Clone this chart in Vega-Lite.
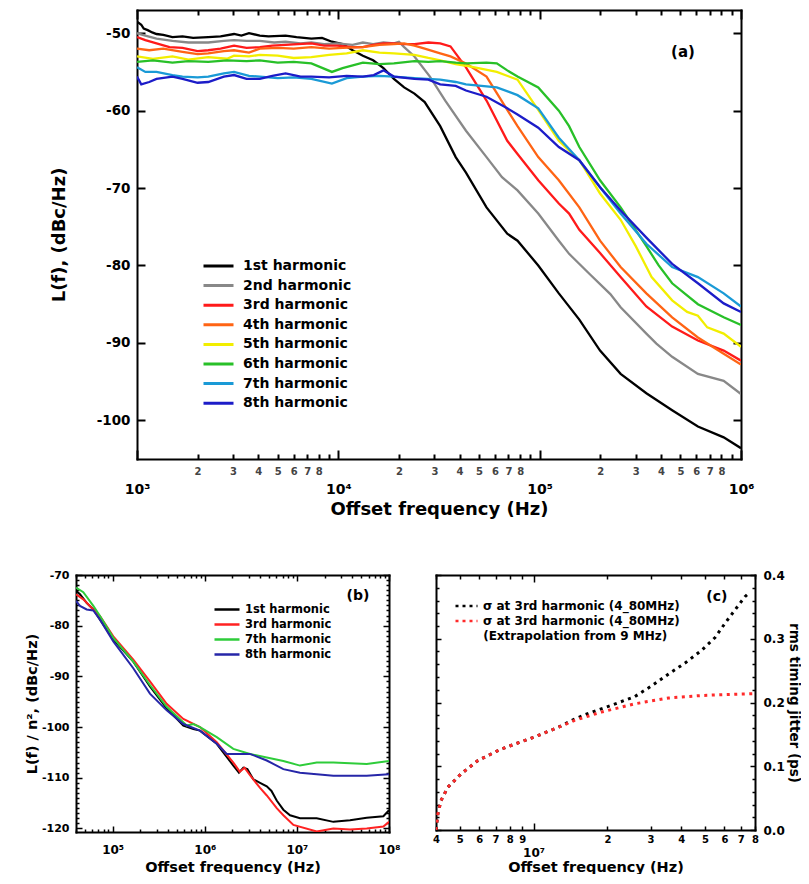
{
  "$schema": "https://vega.github.io/schema/vega-lite/v6.json",
  "padding": {"left": 24, "top": 9, "right": 0, "bottom": 0},
  "background": "white",
  "config": {
    "font": "DejaVu Sans",
    "view": {"stroke": null},
    "axis": {"labelFont": "DejaVu Sans", "labelFontWeight": "bold", "titleFont": "DejaVu Sans", "titleFontWeight": "bold", "labelColor": "#000", "titleColor": "#000", "domainColor": "#000", "tickColor": "#000", "grid": false, "labelFlush": false, "labelOverlap": false, "domainCap": "square"},
    "legend": {"labelFont": "DejaVu Sans", "labelFontWeight": "bold", "labelColor": "#000", "labelLimit": 400}
  },
  "resolve": {"scale": {"color": "independent"}, "legend": {"color": "independent"}},
  "datasets": {
    "a": [
      {"s":"1st harmonic","f":1000,"L":-48.5},{"s":"1st harmonic","f":1050,"L":-48.9},{"s":"1st harmonic","f":1080,"L":-49.4},{"s":"1st harmonic","f":1130,"L":-49.6},{"s":"1st harmonic","f":1190,"L":-49.9},{"s":"1st harmonic","f":1250,"L":-50.1},{"s":"1st harmonic","f":1350,"L":-50.2},{"s":"1st harmonic","f":1500,"L":-50.5},{"s":"1st harmonic","f":1683,"L":-50.4},{"s":"1st harmonic","f":1900,"L":-50.6},{"s":"1st harmonic","f":2259,"L":-50.5},{"s":"1st harmonic","f":2600,"L":-50.4},{"s":"1st harmonic","f":3034,"L":-50.1},{"s":"1st harmonic","f":3300,"L":-50.3},{"s":"1st harmonic","f":3600,"L":-50.0},{"s":"1st harmonic","f":4074,"L":-50.3},{"s":"1st harmonic","f":4500,"L":-50.4},{"s":"1st harmonic","f":5470,"L":-50.3},{"s":"1st harmonic","f":6200,"L":-50.5},{"s":"1st harmonic","f":7345,"L":-50.7},{"s":"1st harmonic","f":8300,"L":-50.6},{"s":"1st harmonic","f":9290,"L":-51.1},{"s":"1st harmonic","f":10500,"L":-51.4},{"s":"1st harmonic","f":11770,"L":-52.2},{"s":"1st harmonic","f":13240,"L":-52.9},{"s":"1st harmonic","f":14890,"L":-53.5},{"s":"1st harmonic","f":16750,"L":-54.5},{"s":"1st harmonic","f":17780,"L":-55.2},{"s":"1st harmonic","f":18880,"L":-55.9},{"s":"1st harmonic","f":21230,"L":-57.0},{"s":"1st harmonic","f":23880,"L":-57.8},{"s":"1st harmonic","f":26850,"L":-58.9},{"s":"1st harmonic","f":32060,"L":-62.0},{"s":"1st harmonic","f":38280,"L":-66.0},{"s":"1st harmonic","f":43050,"L":-68.0},{"s":"1st harmonic","f":54450,"L":-72.5},{"s":"1st harmonic","f":69020,"L":-75.9},{"s":"1st harmonic","f":77620,"L":-76.8},{"s":"1st harmonic","f":98400,"L":-80.0},{"s":"1st harmonic","f":124500,"L":-83.6},{"s":"1st harmonic","f":157400,"L":-87.0},{"s":"1st harmonic","f":199500,"L":-91.0},{"s":"1st harmonic","f":252400,"L":-94.0},{"s":"1st harmonic","f":338800,"L":-96.5},{"s":"1st harmonic","f":455000,"L":-98.7},{"s":"1st harmonic","f":610900,"L":-100.8},{"s":"1st harmonic","f":820300,"L":-102.2},{"s":"1st harmonic","f":1000000,"L":-103.6},
      {"s":"2nd harmonic","f":1000,"L":-50.0},{"s":"2nd harmonic","f":1100,"L":-50.3},{"s":"2nd harmonic","f":1250,"L":-50.7},{"s":"2nd harmonic","f":1500,"L":-51.0},{"s":"2nd harmonic","f":1800,"L":-51.2},{"s":"2nd harmonic","f":2259,"L":-51.2},{"s":"2nd harmonic","f":2700,"L":-51.0},{"s":"2nd harmonic","f":3034,"L":-50.9},{"s":"2nd harmonic","f":3500,"L":-51.0},{"s":"2nd harmonic","f":4074,"L":-51.0},{"s":"2nd harmonic","f":4800,"L":-51.2},{"s":"2nd harmonic","f":5470,"L":-51.1},{"s":"2nd harmonic","f":6500,"L":-51.3},{"s":"2nd harmonic","f":7345,"L":-51.2},{"s":"2nd harmonic","f":8500,"L":-51.4},{"s":"2nd harmonic","f":9863,"L":-51.3},{"s":"2nd harmonic","f":11770,"L":-51.5},{"s":"2nd harmonic","f":13240,"L":-51.2},{"s":"2nd harmonic","f":14890,"L":-51.4},{"s":"2nd harmonic","f":16750,"L":-51.2},{"s":"2nd harmonic","f":18880,"L":-51.3},{"s":"2nd harmonic","f":20000,"L":-51.1},{"s":"2nd harmonic","f":21230,"L":-51.8},{"s":"2nd harmonic","f":23880,"L":-53.0},{"s":"2nd harmonic","f":28500,"L":-55.6},{"s":"2nd harmonic","f":33960,"L":-58.7},{"s":"2nd harmonic","f":43050,"L":-62.6},{"s":"2nd harmonic","f":54450,"L":-66.0},{"s":"2nd harmonic","f":65000,"L":-68.6},{"s":"2nd harmonic","f":77620,"L":-70.3},{"s":"2nd harmonic","f":98400,"L":-73.3},{"s":"2nd harmonic","f":124500,"L":-76.8},{"s":"2nd harmonic","f":140000,"L":-78.5},{"s":"2nd harmonic","f":177000,"L":-81.1},{"s":"2nd harmonic","f":224400,"L":-83.7},{"s":"2nd harmonic","f":252400,"L":-85.4},{"s":"2nd harmonic","f":338800,"L":-88.8},{"s":"2nd harmonic","f":380000,"L":-90.1},{"s":"2nd harmonic","f":455000,"L":-91.8},{"s":"2nd harmonic","f":610900,"L":-94.0},{"s":"2nd harmonic","f":820300,"L":-94.9},{"s":"2nd harmonic","f":1000000,"L":-96.6},
      {"s":"3rd harmonic","f":1000,"L":-50.5},{"s":"3rd harmonic","f":1100,"L":-50.9},{"s":"3rd harmonic","f":1250,"L":-51.3},{"s":"3rd harmonic","f":1450,"L":-51.8},{"s":"3rd harmonic","f":1683,"L":-51.9},{"s":"3rd harmonic","f":2000,"L":-52.3},{"s":"3rd harmonic","f":2259,"L":-52.2},{"s":"3rd harmonic","f":2600,"L":-52.0},{"s":"3rd harmonic","f":3034,"L":-51.6},{"s":"3rd harmonic","f":3500,"L":-51.9},{"s":"3rd harmonic","f":4074,"L":-51.8},{"s":"3rd harmonic","f":4700,"L":-51.6},{"s":"3rd harmonic","f":5470,"L":-51.5},{"s":"3rd harmonic","f":6300,"L":-51.4},{"s":"3rd harmonic","f":7345,"L":-51.3},{"s":"3rd harmonic","f":8500,"L":-51.6},{"s":"3rd harmonic","f":9863,"L":-51.6},{"s":"3rd harmonic","f":11770,"L":-51.8},{"s":"3rd harmonic","f":13240,"L":-51.8},{"s":"3rd harmonic","f":14890,"L":-51.5},{"s":"3rd harmonic","f":16750,"L":-51.3},{"s":"3rd harmonic","f":18880,"L":-51.3},{"s":"3rd harmonic","f":21230,"L":-51.4},{"s":"3rd harmonic","f":23880,"L":-51.4},{"s":"3rd harmonic","f":28000,"L":-51.2},{"s":"3rd harmonic","f":32060,"L":-51.3},{"s":"3rd harmonic","f":36060,"L":-51.7},{"s":"3rd harmonic","f":43050,"L":-54.4},{"s":"3rd harmonic","f":54450,"L":-58.7},{"s":"3rd harmonic","f":69020,"L":-63.9},{"s":"3rd harmonic","f":77620,"L":-65.6},{"s":"3rd harmonic","f":98400,"L":-69.0},{"s":"3rd harmonic","f":124500,"L":-72.0},{"s":"3rd harmonic","f":140000,"L":-73.3},{"s":"3rd harmonic","f":157400,"L":-75.4},{"s":"3rd harmonic","f":199500,"L":-78.4},{"s":"3rd harmonic","f":252400,"L":-81.5},{"s":"3rd harmonic","f":338800,"L":-85.3},{"s":"3rd harmonic","f":455000,"L":-87.9},{"s":"3rd harmonic","f":610900,"L":-89.7},{"s":"3rd harmonic","f":820300,"L":-91.0},{"s":"3rd harmonic","f":1000000,"L":-92.3},
      {"s":"4th harmonic","f":1000,"L":-52.0},{"s":"4th harmonic","f":1150,"L":-52.2},{"s":"4th harmonic","f":1350,"L":-52.0},{"s":"4th harmonic","f":1683,"L":-52.4},{"s":"4th harmonic","f":2000,"L":-52.7},{"s":"4th harmonic","f":2259,"L":-52.6},{"s":"4th harmonic","f":2700,"L":-52.3},{"s":"4th harmonic","f":3034,"L":-52.2},{"s":"4th harmonic","f":3600,"L":-52.5},{"s":"4th harmonic","f":4074,"L":-52.0},{"s":"4th harmonic","f":5000,"L":-51.9},{"s":"4th harmonic","f":6000,"L":-52.0},{"s":"4th harmonic","f":7345,"L":-51.8},{"s":"4th harmonic","f":9000,"L":-52.0},{"s":"4th harmonic","f":10500,"L":-51.9},{"s":"4th harmonic","f":13240,"L":-51.8},{"s":"4th harmonic","f":16000,"L":-51.5},{"s":"4th harmonic","f":18880,"L":-51.4},{"s":"4th harmonic","f":21230,"L":-51.3},{"s":"4th harmonic","f":23880,"L":-51.6},{"s":"4th harmonic","f":26850,"L":-52.0},{"s":"4th harmonic","f":32060,"L":-52.6},{"s":"4th harmonic","f":36060,"L":-53.0},{"s":"4th harmonic","f":43050,"L":-53.9},{"s":"4th harmonic","f":54450,"L":-55.6},{"s":"4th harmonic","f":69020,"L":-59.9},{"s":"4th harmonic","f":77620,"L":-62.0},{"s":"4th harmonic","f":98400,"L":-66.0},{"s":"4th harmonic","f":124500,"L":-69.0},{"s":"4th harmonic","f":157400,"L":-72.5},{"s":"4th harmonic","f":199500,"L":-76.8},{"s":"4th harmonic","f":252400,"L":-80.2},{"s":"4th harmonic","f":338800,"L":-83.6},{"s":"4th harmonic","f":455000,"L":-86.7},{"s":"4th harmonic","f":610900,"L":-89.3},{"s":"4th harmonic","f":820300,"L":-91.4},{"s":"4th harmonic","f":1000000,"L":-92.8},
      {"s":"5th harmonic","f":1000,"L":-53.0},{"s":"5th harmonic","f":1200,"L":-53.3},{"s":"5th harmonic","f":1500,"L":-53.0},{"s":"5th harmonic","f":1800,"L":-53.4},{"s":"5th harmonic","f":2259,"L":-53.1},{"s":"5th harmonic","f":2800,"L":-53.3},{"s":"5th harmonic","f":3034,"L":-52.9},{"s":"5th harmonic","f":3600,"L":-53.0},{"s":"5th harmonic","f":4074,"L":-52.8},{"s":"5th harmonic","f":5000,"L":-52.9},{"s":"5th harmonic","f":6000,"L":-53.2},{"s":"5th harmonic","f":7345,"L":-53.1},{"s":"5th harmonic","f":9000,"L":-52.8},{"s":"5th harmonic","f":11000,"L":-52.6},{"s":"5th harmonic","f":13240,"L":-52.2},{"s":"5th harmonic","f":16000,"L":-52.5},{"s":"5th harmonic","f":18880,"L":-52.6},{"s":"5th harmonic","f":23880,"L":-52.8},{"s":"5th harmonic","f":28000,"L":-53.2},{"s":"5th harmonic","f":32060,"L":-53.5},{"s":"5th harmonic","f":38280,"L":-54.0},{"s":"5th harmonic","f":43050,"L":-54.2},{"s":"5th harmonic","f":61240,"L":-55.0},{"s":"5th harmonic","f":77620,"L":-56.0},{"s":"5th harmonic","f":98400,"L":-59.9},{"s":"5th harmonic","f":124500,"L":-63.9},{"s":"5th harmonic","f":157400,"L":-66.4},{"s":"5th harmonic","f":199500,"L":-70.7},{"s":"5th harmonic","f":252400,"L":-74.1},{"s":"5th harmonic","f":300000,"L":-77.5},{"s":"5th harmonic","f":359700,"L":-81.5},{"s":"5th harmonic","f":455000,"L":-84.5},{"s":"5th harmonic","f":540000,"L":-86.0},{"s":"5th harmonic","f":610900,"L":-86.5},{"s":"5th harmonic","f":680000,"L":-88.0},{"s":"5th harmonic","f":820300,"L":-88.8},{"s":"5th harmonic","f":1000000,"L":-90.5},
      {"s":"6th harmonic","f":1000,"L":-53.7},{"s":"6th harmonic","f":1200,"L":-53.5},{"s":"6th harmonic","f":1500,"L":-53.8},{"s":"6th harmonic","f":1800,"L":-53.6},{"s":"6th harmonic","f":2259,"L":-53.7},{"s":"6th harmonic","f":2800,"L":-53.5},{"s":"6th harmonic","f":3500,"L":-53.6},{"s":"6th harmonic","f":4074,"L":-53.5},{"s":"6th harmonic","f":5000,"L":-53.8},{"s":"6th harmonic","f":6000,"L":-53.7},{"s":"6th harmonic","f":7345,"L":-53.9},{"s":"6th harmonic","f":9290,"L":-55.0},{"s":"6th harmonic","f":10500,"L":-54.5},{"s":"6th harmonic","f":13240,"L":-53.8},{"s":"6th harmonic","f":16000,"L":-54.0},{"s":"6th harmonic","f":18880,"L":-53.9},{"s":"6th harmonic","f":23880,"L":-53.6},{"s":"6th harmonic","f":28000,"L":-53.7},{"s":"6th harmonic","f":32060,"L":-53.6},{"s":"6th harmonic","f":38280,"L":-53.8},{"s":"6th harmonic","f":43050,"L":-53.9},{"s":"6th harmonic","f":54450,"L":-53.8},{"s":"6th harmonic","f":61240,"L":-53.9},{"s":"6th harmonic","f":69020,"L":-54.8},{"s":"6th harmonic","f":77620,"L":-55.6},{"s":"6th harmonic","f":98400,"L":-57.0},{"s":"6th harmonic","f":124500,"L":-60.0},{"s":"6th harmonic","f":140000,"L":-62.0},{"s":"6th harmonic","f":157400,"L":-64.7},{"s":"6th harmonic","f":199500,"L":-69.0},{"s":"6th harmonic","f":252400,"L":-72.5},{"s":"6th harmonic","f":338800,"L":-77.5},{"s":"6th harmonic","f":390000,"L":-80.0},{"s":"6th harmonic","f":455000,"L":-82.3},{"s":"6th harmonic","f":610900,"L":-85.0},{"s":"6th harmonic","f":820300,"L":-86.7},{"s":"6th harmonic","f":1000000,"L":-87.7},
      {"s":"7th harmonic","f":1000,"L":-54.4},{"s":"7th harmonic","f":1100,"L":-55.0},{"s":"7th harmonic","f":1250,"L":-55.0},{"s":"7th harmonic","f":1500,"L":-55.4},{"s":"7th harmonic","f":1683,"L":-55.6},{"s":"7th harmonic","f":2000,"L":-55.7},{"s":"7th harmonic","f":2259,"L":-55.6},{"s":"7th harmonic","f":2700,"L":-55.2},{"s":"7th harmonic","f":3034,"L":-55.0},{"s":"7th harmonic","f":3600,"L":-55.5},{"s":"7th harmonic","f":4074,"L":-55.6},{"s":"7th harmonic","f":5000,"L":-55.8},{"s":"7th harmonic","f":6000,"L":-55.7},{"s":"7th harmonic","f":7345,"L":-55.9},{"s":"7th harmonic","f":9290,"L":-56.5},{"s":"7th harmonic","f":11000,"L":-55.8},{"s":"7th harmonic","f":13240,"L":-55.6},{"s":"7th harmonic","f":16000,"L":-55.5},{"s":"7th harmonic","f":18880,"L":-55.6},{"s":"7th harmonic","f":23880,"L":-55.8},{"s":"7th harmonic","f":32060,"L":-56.0},{"s":"7th harmonic","f":38280,"L":-56.3},{"s":"7th harmonic","f":43050,"L":-56.6},{"s":"7th harmonic","f":61240,"L":-57.0},{"s":"7th harmonic","f":77620,"L":-58.0},{"s":"7th harmonic","f":98400,"L":-59.7},{"s":"7th harmonic","f":124500,"L":-63.5},{"s":"7th harmonic","f":157400,"L":-66.4},{"s":"7th harmonic","f":199500,"L":-69.9},{"s":"7th harmonic","f":252400,"L":-73.3},{"s":"7th harmonic","f":338800,"L":-77.2},{"s":"7th harmonic","f":455000,"L":-80.2},{"s":"7th harmonic","f":610900,"L":-81.5},{"s":"7th harmonic","f":820300,"L":-83.6},{"s":"7th harmonic","f":1000000,"L":-85.3},
      {"s":"8th harmonic","f":1000,"L":-55.6},{"s":"8th harmonic","f":1050,"L":-56.6},{"s":"8th harmonic","f":1150,"L":-56.3},{"s":"8th harmonic","f":1250,"L":-55.9},{"s":"8th harmonic","f":1500,"L":-55.6},{"s":"8th harmonic","f":1683,"L":-55.9},{"s":"8th harmonic","f":2000,"L":-56.4},{"s":"8th harmonic","f":2259,"L":-56.3},{"s":"8th harmonic","f":2700,"L":-55.6},{"s":"8th harmonic","f":3034,"L":-55.4},{"s":"8th harmonic","f":3500,"L":-55.9},{"s":"8th harmonic","f":4074,"L":-55.9},{"s":"8th harmonic","f":4700,"L":-55.5},{"s":"8th harmonic","f":5470,"L":-55.2},{"s":"8th harmonic","f":6500,"L":-55.6},{"s":"8th harmonic","f":7345,"L":-55.6},{"s":"8th harmonic","f":9000,"L":-55.7},{"s":"8th harmonic","f":11000,"L":-55.5},{"s":"8th harmonic","f":13240,"L":-55.6},{"s":"8th harmonic","f":15000,"L":-55.4},{"s":"8th harmonic","f":16750,"L":-54.8},{"s":"8th harmonic","f":18880,"L":-55.6},{"s":"8th harmonic","f":23880,"L":-55.9},{"s":"8th harmonic","f":28000,"L":-56.0},{"s":"8th harmonic","f":32060,"L":-56.6},{"s":"8th harmonic","f":38280,"L":-56.8},{"s":"8th harmonic","f":43050,"L":-57.4},{"s":"8th harmonic","f":54450,"L":-58.2},{"s":"8th harmonic","f":69020,"L":-59.7},{"s":"8th harmonic","f":77620,"L":-60.5},{"s":"8th harmonic","f":98400,"L":-62.2},{"s":"8th harmonic","f":124500,"L":-64.7},{"s":"8th harmonic","f":157400,"L":-66.4},{"s":"8th harmonic","f":199500,"L":-69.9},{"s":"8th harmonic","f":252400,"L":-72.9},{"s":"8th harmonic","f":338800,"L":-76.4},{"s":"8th harmonic","f":455000,"L":-79.8},{"s":"8th harmonic","f":610900,"L":-82.3},{"s":"8th harmonic","f":820300,"L":-84.9},{"s":"8th harmonic","f":1000000,"L":-86.0}
    ],
    "b": [
      {"s":"1st harmonic","f":40000,"L":-73.1},{"s":"1st harmonic","f":44200,"L":-73.8},{"s":"1st harmonic","f":52200,"L":-75.5},{"s":"1st harmonic","f":61700,"L":-76.8},{"s":"1st harmonic","f":72900,"L":-78.8},{"s":"1st harmonic","f":101600,"L":-82.7},{"s":"1st harmonic","f":167500,"L":-87.1},{"s":"1st harmonic","f":254000,"L":-92.0},{"s":"1st harmonic","f":386000,"L":-96.3},{"s":"1st harmonic","f":585000,"L":-99.7},{"s":"1st harmonic","f":752000,"L":-100.4},{"s":"1st harmonic","f":887000,"L":-100.7},{"s":"1st harmonic","f":1349000,"L":-103.3},{"s":"1st harmonic","f":2042000,"L":-107.6},{"s":"1st harmonic","f":2350000,"L":-109.0},{"s":"1st harmonic","f":2624000,"L":-108.0},{"s":"1st harmonic","f":2900000,"L":-108.3},{"s":"1st harmonic","f":3365000,"L":-110.3},{"s":"1st harmonic","f":3981000,"L":-111.0},{"s":"1st harmonic","f":4710000,"L":-111.7},{"s":"1st harmonic","f":5300000,"L":-112.6},{"s":"1st harmonic","f":6039000,"L":-114.5},{"s":"1st harmonic","f":7129000,"L":-116.3},{"s":"1st harmonic","f":8433000,"L":-117.4},{"s":"1st harmonic","f":10810000,"L":-118.0},{"s":"1st harmonic","f":16410000,"L":-118.0},{"s":"1st harmonic","f":24890000,"L":-118.7},{"s":"1st harmonic","f":37760000,"L":-118.4},{"s":"1st harmonic","f":57280000,"L":-117.9},{"s":"1st harmonic","f":86900000,"L":-117.6},{"s":"1st harmonic","f":100000000,"L":-116.4},
      {"s":"3rd harmonic","f":40000,"L":-73.8},{"s":"3rd harmonic","f":48000,"L":-74.8},{"s":"3rd harmonic","f":61700,"L":-76.8},{"s":"3rd harmonic","f":72900,"L":-78.1},{"s":"3rd harmonic","f":101600,"L":-82.1},{"s":"3rd harmonic","f":167500,"L":-86.7},{"s":"3rd harmonic","f":254000,"L":-91.0},{"s":"3rd harmonic","f":386000,"L":-95.4},{"s":"3rd harmonic","f":585000,"L":-98.4},{"s":"3rd harmonic","f":887000,"L":-100.0},{"s":"3rd harmonic","f":1349000,"L":-103.0},{"s":"3rd harmonic","f":2042000,"L":-107.0},{"s":"3rd harmonic","f":2400000,"L":-108.8},{"s":"3rd harmonic","f":2700000,"L":-108.0},{"s":"3rd harmonic","f":3097000,"L":-109.5},{"s":"3rd harmonic","f":3981000,"L":-112.0},{"s":"3rd harmonic","f":4710000,"L":-113.5},{"s":"3rd harmonic","f":6039000,"L":-116.0},{"s":"3rd harmonic","f":7129000,"L":-117.4},{"s":"3rd harmonic","f":9162000,"L":-119.3},{"s":"3rd harmonic","f":16410000,"L":-120.6},{"s":"3rd harmonic","f":24890000,"L":-120.0},{"s":"3rd harmonic","f":37760000,"L":-120.2},{"s":"3rd harmonic","f":57280000,"L":-120.0},{"s":"3rd harmonic","f":86900000,"L":-119.6},{"s":"3rd harmonic","f":100000000,"L":-118.7},
      {"s":"7th harmonic","f":40000,"L":-72.5},{"s":"7th harmonic","f":48000,"L":-73.4},{"s":"7th harmonic","f":61700,"L":-76.1},{"s":"7th harmonic","f":72900,"L":-78.1},{"s":"7th harmonic","f":101600,"L":-82.4},{"s":"7th harmonic","f":167500,"L":-87.1},{"s":"7th harmonic","f":254000,"L":-91.7},{"s":"7th harmonic","f":386000,"L":-96.0},{"s":"7th harmonic","f":637000,"L":-99.7},{"s":"7th harmonic","f":752000,"L":-99.4},{"s":"7th harmonic","f":887000,"L":-100.0},{"s":"7th harmonic","f":1349000,"L":-102.0},{"s":"7th harmonic","f":2042000,"L":-104.3},{"s":"7th harmonic","f":3097000,"L":-105.3},{"s":"7th harmonic","f":4710000,"L":-106.0},{"s":"7th harmonic","f":7129000,"L":-106.7},{"s":"7th harmonic","f":10810000,"L":-107.6},{"s":"7th harmonic","f":16410000,"L":-107.0},{"s":"7th harmonic","f":24890000,"L":-107.0},{"s":"7th harmonic","f":57280000,"L":-107.3},{"s":"7th harmonic","f":100000000,"L":-106.7},
      {"s":"8th harmonic","f":40000,"L":-75.1},{"s":"8th harmonic","f":44200,"L":-76.1},{"s":"8th harmonic","f":52200,"L":-76.8},{"s":"8th harmonic","f":61700,"L":-77.0},{"s":"8th harmonic","f":72900,"L":-78.8},{"s":"8th harmonic","f":101600,"L":-83.1},{"s":"8th harmonic","f":167500,"L":-88.4},{"s":"8th harmonic","f":254000,"L":-93.4},{"s":"8th harmonic","f":386000,"L":-96.7},{"s":"8th harmonic","f":585000,"L":-99.4},{"s":"8th harmonic","f":887000,"L":-100.7},{"s":"8th harmonic","f":1349000,"L":-103.3},{"s":"8th harmonic","f":1730000,"L":-105.3},{"s":"8th harmonic","f":3097000,"L":-105.3},{"s":"8th harmonic","f":4710000,"L":-106.6},{"s":"8th harmonic","f":7129000,"L":-108.3},{"s":"8th harmonic","f":10810000,"L":-109.0},{"s":"8th harmonic","f":24890000,"L":-109.6},{"s":"8th harmonic","f":57280000,"L":-109.6},{"s":"8th harmonic","f":100000000,"L":-109.3}
    ],
    "c": [
      {"s":"measured","f":4000000,"j":0},{"s":"measured","f":4070000,"j":0.025},{"s":"measured","f":4190000,"j":0.046},{"s":"measured","f":4470000,"j":0.067},{"s":"measured","f":5060000,"j":0.088},{"s":"measured","f":5930000,"j":0.109},{"s":"measured","f":7380000,"j":0.127},{"s":"measured","f":10100000,"j":0.146},{"s":"measured","f":12600000,"j":0.161},{"s":"measured","f":14700000,"j":0.174},{"s":"measured","f":17000000,"j":0.184},{"s":"measured","f":20200000,"j":0.194},{"s":"measured","f":25800000,"j":0.209},{"s":"measured","f":30300000,"j":0.226},{"s":"measured","f":35600000,"j":0.245},{"s":"measured","f":41500000,"j":0.262},{"s":"measured","f":48500000,"j":0.282},{"s":"measured","f":55000000,"j":0.302},{"s":"measured","f":60300000,"j":0.324},{"s":"measured","f":72800000,"j":0.366},{"s":"measured","f":76300000,"j":0.373},
      {"s":"extrapolated","f":4000000,"j":0},{"s":"extrapolated","f":4070000,"j":0.025},{"s":"extrapolated","f":4190000,"j":0.046},{"s":"extrapolated","f":4470000,"j":0.067},{"s":"extrapolated","f":5060000,"j":0.088},{"s":"extrapolated","f":5930000,"j":0.109},{"s":"extrapolated","f":7380000,"j":0.127},{"s":"extrapolated","f":10100000,"j":0.146},{"s":"extrapolated","f":12600000,"j":0.161},{"s":"extrapolated","f":14700000,"j":0.172},{"s":"extrapolated","f":18900000,"j":0.185},{"s":"extrapolated","f":25900000,"j":0.198},{"s":"extrapolated","f":35500000,"j":0.207},{"s":"extrapolated","f":48500000,"j":0.211},{"s":"extrapolated","f":66500000,"j":0.213},{"s":"extrapolated","f":80000000,"j":0.214}
    ]
  },
  "spacing": 51,
  "vconcat": [
    {
      "spacing": -30,
      "resolve": {"scale": {"color": "independent"}, "legend": {"color": "independent"}},
      "hconcat": [
        {"width": 1, "height": 10, "data": {"values": [{}]}, "mark": {"type": "point", "opacity": 0}},
        {
          "width": 604, "height": 449,
          "resolve": {"axis": {"x": "independent", "y": "independent"}},
          "layer": [
            {
              "data": {"name": "a"},
              "mark": {"type": "line", "strokeWidth": 2.3, "clip": true},
              "encoding": {
                "x": {"field": "f", "type": "quantitative", "scale": {"type": "log", "domain": [1000, 1000000], "nice": false},
                  "axis": {"orient": "bottom", "values": [1000,2000,3000,4000,5000,6000,7000,8000,9000,10000,20000,30000,40000,50000,60000,70000,80000,90000,100000,200000,300000,400000,500000,600000,700000,800000,900000,1000000],
                    "labelExpr": "datum.value==1000?'10³':datum.value==10000?'10⁴':datum.value==100000?'10⁵':datum.value==1000000?'10⁶':(substring(toString(datum.value),0,1)=='9'?'':substring(toString(datum.value),0,1))",
                    "tickSize": {"condition": {"test": "indexof([1000,10000,100000,1000000],datum.value)>=0", "value": -9}, "value": -5},
                    "labelPadding": {"condition": {"test": "indexof([1000,10000,100000,1000000],datum.value)>=0", "value": 32}, "value": 12},
                    "labelFontSize": {"condition": {"test": "indexof([1000,10000,100000,1000000],datum.value)>=0", "value": 14}, "value": 10},
                    "labelColor": {"condition": {"test": "indexof([1000,10000,100000,1000000],datum.value)>=0", "value": "#000"}, "value": "#444"},
                    "tickWidth": 2, "domainWidth": 2, "title": "Offset frequency (Hz)", "titleFontSize": 18, "titlePadding": 4}},
                "y": {"field": "L", "type": "quantitative", "scale": {"domain": [-105, -47], "nice": false, "zero": false},
                  "axis": {"orient": "left", "values": [-100,-90,-80,-70,-60,-50], "labelExpr": "toString(datum.value)", "tickSize": -8, "tickWidth": 2, "labelPadding": 15, "labelFontSize": 13.5, "domainWidth": 2, "title": "L(f), (dBc/Hz)", "titleFontSize": 18, "titlePadding": 28}},
                "color": {"field": "s", "type": "nominal",
                  "scale": {"domain": ["1st harmonic","2nd harmonic","3rd harmonic","4th harmonic","5th harmonic","6th harmonic","7th harmonic","8th harmonic"],
                    "range": ["#000000","#888888","#ff1a1a","#ff6414","#f2ee00","#28c028","#1a9ad6","#1c1cc8"]},
                  "legend": {"orient": "none", "legendX": 65, "legendY": 249, "title": null, "padding": 0, "symbolType": "stroke", "symbolSize": 900, "symbolStrokeWidth": 3, "clipHeight": 14, "rowPadding": 5.6, "labelFontSize": 14, "labelOffset": 8}}
              }
            },
            {
              "data": {"values": [{"f": 10000, "L": -60}]},
              "mark": {"type": "point", "opacity": 0},
              "encoding": {
                "x": {"field": "f", "type": "quantitative", "scale": {"type": "log", "domain": [1000, 1000000], "nice": false},
                  "axis": {"orient": "top", "labels": false, "title": null, "values": [1000,2000,3000,4000,5000,6000,7000,8000,9000,10000,20000,30000,40000,50000,60000,70000,80000,90000,100000,200000,300000,400000,500000,600000,700000,800000,900000,1000000],
                    "tickSize": {"condition": {"test": "indexof([1000,10000,100000,1000000],datum.value)>=0", "value": -9}, "value": -5}, "tickWidth": 2, "domainWidth": 2}},
                "y": {"field": "L", "type": "quantitative", "scale": {"domain": [-105, -47], "nice": false, "zero": false},
                  "axis": {"orient": "right", "labels": false, "title": null, "values": [-100,-90,-80,-70,-60,-50], "tickSize": -8, "tickWidth": 2, "domainWidth": 2}}
              }
            },
            {
              "data": {"values": [{"f": 515000, "L": -52.45, "t": "(a)"}]},
              "mark": {"type": "text", "fontSize": 15, "fontWeight": "bold", "font": "DejaVu Sans"},
              "encoding": {
                "x": {"field": "f", "type": "quantitative", "scale": {"type": "log", "domain": [1000, 1000000], "nice": false}, "axis": null},
                "y": {"field": "L", "type": "quantitative", "scale": {"domain": [-105, -47], "nice": false, "zero": false}, "axis": null},
                "text": {"field": "t"}
              }
            }
          ]
        }
      ]
    },
    {
      "spacing": 32,
      "resolve": {"scale": {"color": "independent"}, "legend": {"color": "independent"}},
      "hconcat": [
        {
          "width": 313, "height": 257,
          "resolve": {"axis": {"x": "independent", "y": "independent"}},
          "layer": [
            {
              "data": {"name": "b"},
              "mark": {"type": "line", "strokeWidth": 2, "clip": true},
              "encoding": {
                "x": {"field": "f", "type": "quantitative", "scale": {"type": "log", "domain": [40000, 100000000], "nice": false},
                  "axis": {"orient": "bottom", "values": [40000,50000,60000,70000,80000,90000,100000,200000,300000,400000,500000,600000,700000,800000,900000,1000000,2000000,3000000,4000000,5000000,6000000,7000000,8000000,9000000,10000000,20000000,30000000,40000000,50000000,60000000,70000000,80000000,90000000,100000000],
                    "labelExpr": "datum.value==100000?'10⁵':datum.value==1000000?'10⁶':datum.value==10000000?'10⁷':datum.value==100000000?'10⁸':''",
                    "tickSize": {"condition": {"test": "indexof([100000,1000000,10000000,100000000],datum.value)>=0", "value": -6}, "value": -3},
                    "labelPadding": {"condition": {"test": "indexof([100000,1000000,10000000,100000000],datum.value)>=0", "value": 18}, "value": 15},
                    "labelFontSize": 12, "tickWidth": 1.5, "domainWidth": 2, "title": "Offset frequency (Hz)", "titleFontSize": 14.5, "titlePadding": 5}},
                "y": {"field": "L", "type": "quantitative", "scale": {"domain": [-120.7, -70], "nice": false, "zero": false},
                  "axis": {"orient": "left", "values": [-120,-119,-118,-117,-116,-115,-114,-113,-112,-111,-110,-109,-108,-107,-106,-105,-104,-103,-102,-101,-100,-99,-98,-97,-96,-95,-94,-93,-92,-91,-90,-89,-88,-87,-86,-85,-84,-83,-82,-81,-80,-79,-78,-77,-76,-75,-74,-73,-72,-71,-70],
                    "labelExpr": "datum.value%10==0?toString(datum.value):''",
                    "tickSize": {"condition": {"test": "datum.value%10==0", "value": -6}, "value": -3},
                    "labelPadding": {"condition": {"test": "datum.value%10==0", "value": 13}, "value": 10},
                    "labelFontSize": 11, "tickWidth": 1.5, "domainWidth": 2, "title": "L(f) / n², (dBc/Hz)", "titleFontSize": 14.5, "titlePadding": 2}},
                "color": {"field": "s", "type": "nominal",
                  "scale": {"domain": ["1st harmonic","3rd harmonic","7th harmonic","8th harmonic"], "range": ["#000000","#ff2222","#2ecc3a","#2626a8"]},
                  "legend": {"orient": "none", "legendX": 137, "legendY": 28.5, "title": null, "padding": 0, "symbolType": "stroke", "symbolSize": 625, "symbolStrokeWidth": 2.5, "clipHeight": 12, "rowPadding": 3, "labelFontSize": 11.5, "labelOffset": 4}}
              }
            },
            {
              "data": {"values": [{"f": 1000000, "L": -100}]},
              "mark": {"type": "point", "opacity": 0},
              "encoding": {
                "x": {"field": "f", "type": "quantitative", "scale": {"type": "log", "domain": [40000, 100000000], "nice": false},
                  "axis": {"orient": "top", "labels": false, "title": null, "values": [40000,50000,60000,70000,80000,90000,100000,200000,300000,400000,500000,600000,700000,800000,900000,1000000,2000000,3000000,4000000,5000000,6000000,7000000,8000000,9000000,10000000,20000000,30000000,40000000,50000000,60000000,70000000,80000000,90000000,100000000],
                    "tickSize": {"condition": {"test": "indexof([100000,1000000,10000000,100000000],datum.value)>=0", "value": -6}, "value": -3}, "tickWidth": 1.5, "domainWidth": 2}},
                "y": {"field": "L", "type": "quantitative", "scale": {"domain": [-120.7, -70], "nice": false, "zero": false},
                  "axis": {"orient": "right", "labels": false, "title": null, "values": [-120,-119,-118,-117,-116,-115,-114,-113,-112,-111,-110,-109,-108,-107,-106,-105,-104,-103,-102,-101,-100,-99,-98,-97,-96,-95,-94,-93,-92,-91,-90,-89,-88,-87,-86,-85,-84,-83,-82,-81,-80,-79,-78,-77,-76,-75,-74,-73,-72,-71,-70],
                    "tickSize": {"condition": {"test": "datum.value%10==0", "value": -6}, "value": -3}, "tickWidth": 1.5, "domainWidth": 2}}
              }
            },
            {
              "data": {"values": [{"f": 46100000, "L": -74.2, "t": "(b)"}]},
              "mark": {"type": "text", "fontSize": 14, "fontWeight": "bold", "font": "DejaVu Sans"},
              "encoding": {
                "x": {"field": "f", "type": "quantitative", "scale": {"type": "log", "domain": [40000, 100000000], "nice": false}, "axis": null},
                "y": {"field": "L", "type": "quantitative", "scale": {"domain": [-120.7, -70], "nice": false, "zero": false}, "axis": null},
                "text": {"field": "t"}
              }
            }
          ]
        },
        {
          "width": 319, "height": 255,
          "resolve": {"axis": {"x": "independent", "y": "independent"}},
          "layer": [
            {
              "data": {"name": "c"},
              "mark": {"type": "line", "strokeWidth": 3, "strokeDash": [3, 4.5], "clip": true},
              "encoding": {
                "x": {"field": "f", "type": "quantitative", "scale": {"type": "log", "domain": [4000000, 80000000], "nice": false},
                  "axis": {"orient": "bottom", "values": [4000000,5000000,6000000,7000000,8000000,9000000,10000000,20000000,30000000,40000000,50000000,60000000,70000000,80000000],
                    "labelExpr": "datum.value==10000000?'10⁷':substring(toString(datum.value),0,1)",
                    "tickSize": {"condition": {"test": "datum.value==10000000", "value": -7}, "value": -4},
                    "labelPadding": {"condition": {"test": "datum.value==10000000", "value": 24}, "value": 8.5},
                    "labelFontSize": {"condition": {"test": "datum.value==10000000", "value": 12}, "value": 10},
                    "tickWidth": 1.5, "domainWidth": 2, "title": "Offset frequency (Hz)", "titleFontSize": 14.5, "titlePadding": 2}},
                "y": {"field": "j", "type": "quantitative", "scale": {"domain": [0, 0.4], "nice": false},
                  "axis": {"orient": "right", "values": [0,0.02,0.04,0.06,0.08,0.1,0.12,0.14,0.16,0.18,0.2,0.22,0.24,0.26,0.28,0.3,0.32,0.34,0.36,0.38,0.4],
                    "labelExpr": "abs(datum.value*10-round(datum.value*10))<1e-6?format(datum.value,'.1f'):''",
                    "tickSize": {"condition": {"test": "abs(datum.value*10-round(datum.value*10))<1e-6", "value": -5}, "value": -3},
                    "labelPadding": {"condition": {"test": "abs(datum.value*10-round(datum.value*10))<1e-6", "value": 13}, "value": 11},
                    "labelFontSize": 12, "tickWidth": 1.5, "domainWidth": 2, "title": "rms timing jitter (ps)", "titleFontSize": 13.5, "titlePadding": 2}},
                "color": {"field": "s", "type": "nominal",
                  "scale": {"domain": ["measured", "extrapolated"], "range": ["#000000", "#ff2a2a"]},
                  "legend": {"orient": "none", "legendX": 18, "legendY": 25, "title": null, "padding": 0, "symbolType": "stroke", "symbolSize": 484, "symbolStrokeWidth": 2.5, "symbolDash": [3, 4], "clipHeight": 12, "rowPadding": 3, "labelFontSize": 12, "labelOffset": 4, "labelLimit": 400,
                    "labelExpr": "'σ at 3rd harmonic (4_80MHz)'"}}
              }
            },
            {
              "data": {"values": [{"f": 10000000, "j": 0.1}]},
              "mark": {"type": "point", "opacity": 0},
              "encoding": {
                "x": {"field": "f", "type": "quantitative", "scale": {"type": "log", "domain": [4000000, 80000000], "nice": false},
                  "axis": {"orient": "top", "labels": false, "title": null, "values": [4000000,5000000,6000000,7000000,8000000,9000000,10000000,20000000,30000000,40000000,50000000,60000000,70000000,80000000],
                    "tickSize": {"condition": {"test": "datum.value==10000000", "value": -7}, "value": -4}, "tickWidth": 1.5, "domainWidth": 2}},
                "y": {"field": "j", "type": "quantitative", "scale": {"domain": [0, 0.4], "nice": false},
                  "axis": {"orient": "left", "labels": false, "title": null, "values": [0,0.02,0.04,0.06,0.08,0.1,0.12,0.14,0.16,0.18,0.2,0.22,0.24,0.26,0.28,0.3,0.32,0.34,0.36,0.38,0.4],
                    "tickSize": {"condition": {"test": "abs(datum.value*10-round(datum.value*10))<1e-6", "value": -5}, "value": -3}, "tickWidth": 1.5, "domainWidth": 2}}
              }
            },
            {
              "data": {"values": [{"f": 55900000, "j": 0.365, "t": "(c)"}]},
              "mark": {"type": "text", "fontSize": 14, "fontWeight": "bold", "font": "DejaVu Sans"},
              "encoding": {
                "x": {"field": "f", "type": "quantitative", "scale": {"type": "log", "domain": [4000000, 80000000], "nice": false}, "axis": null},
                "y": {"field": "j", "type": "quantitative", "scale": {"domain": [0, 0.4], "nice": false}, "axis": null},
                "text": {"field": "t"}
              }
            },
            {
              "data": {"values": [{"f": 6230000, "j": 0.304, "t": "(Extrapolation from 9 MHz)"}]},
              "mark": {"type": "text", "fontSize": 12, "fontWeight": "bold", "font": "DejaVu Sans", "align": "left", "baseline": "middle"},
              "encoding": {
                "x": {"field": "f", "type": "quantitative", "scale": {"type": "log", "domain": [4000000, 80000000], "nice": false}, "axis": null},
                "y": {"field": "j", "type": "quantitative", "scale": {"domain": [0, 0.4], "nice": false}, "axis": null},
                "text": {"field": "t"}
              }
            }
          ]
        }
      ]
    }
  ]
}
